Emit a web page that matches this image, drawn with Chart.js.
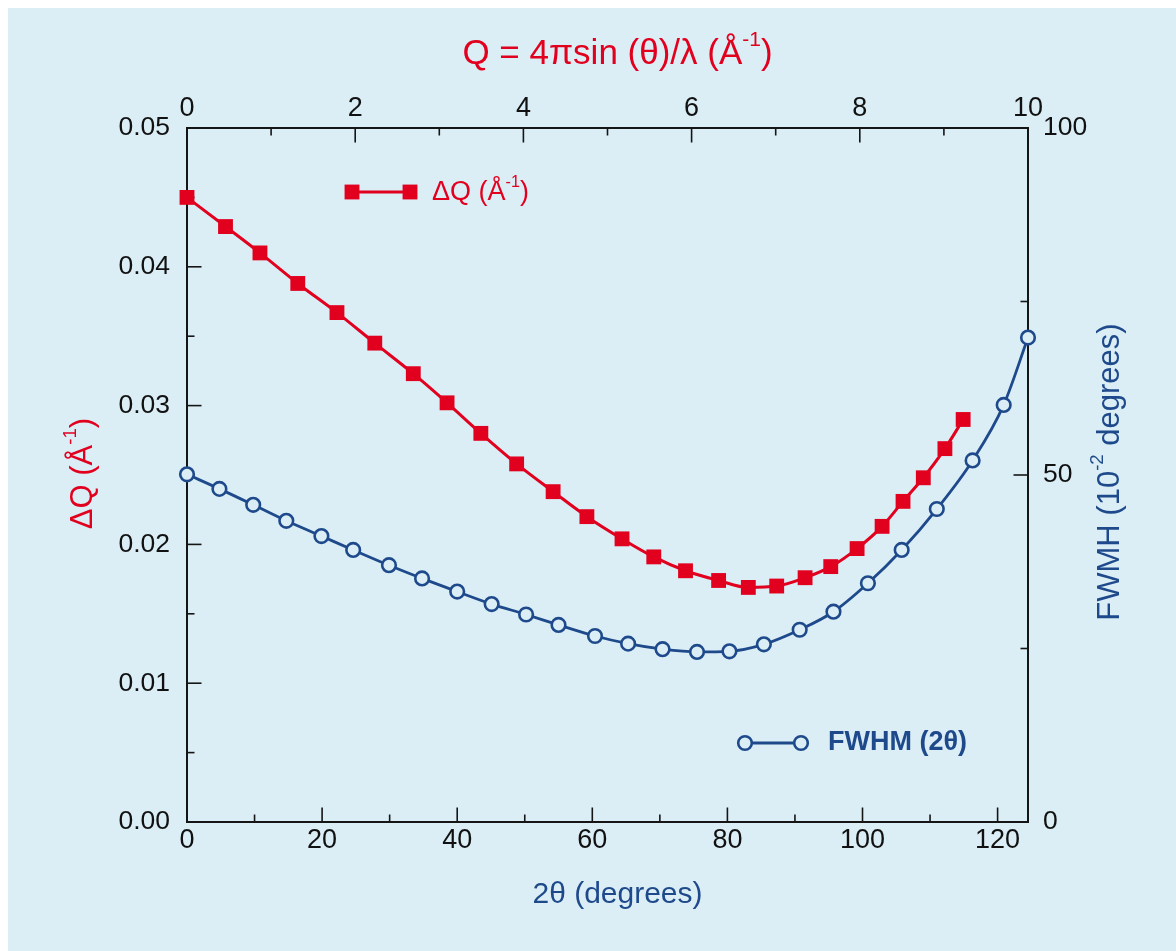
<!DOCTYPE html>
<html><head><meta charset="utf-8">
<script src="https://cdn.jsdelivr.net/npm/chart.js@4.4.1/dist/chart.umd.min.js"></script>
<style>
html,body{margin:0;padding:0;background:#ffffff;}
#wrap{position:absolute;left:8px;top:8px;width:1168px;height:943px;background:#dbeef6;}
</style></head><body><div id="wrap"><canvas id="c"></canvas></div>
<script>
// ---- data ----
const twoThetaDQ = [0, 5.7, 10.8, 16.4, 22.2, 27.8, 33.5, 38.5, 43.5, 48.8, 54.2, 59.2, 64.4, 69.1, 73.8, 78.7, 83.1, 87.3, 91.5, 95.3, 99.2, 102.9, 106.0, 109.0, 112.2, 114.9];
const deltaQ = [0.0450, 0.0429, 0.0410, 0.0388, 0.0367, 0.0345, 0.0323, 0.0302, 0.0280, 0.0258, 0.0238, 0.0220, 0.0204, 0.0191, 0.0181, 0.0174, 0.0169, 0.0170, 0.0176, 0.0184, 0.0197, 0.0213, 0.0231, 0.0248, 0.0269, 0.0290];
const twoThetaFWHM = [0, 4.8, 9.8, 14.7, 19.9, 24.6, 29.9, 34.8, 40.0, 45.1, 50.2, 55.0, 60.4, 65.3, 70.4, 75.5, 80.3, 85.4, 90.7, 95.7, 100.8, 105.8, 111.0, 116.3, 120.9, 124.5];
const fwhm = [50.1, 48.0, 45.7, 43.4, 41.2, 39.2, 37.0, 35.1, 33.2, 31.4, 29.9, 28.4, 26.8, 25.7, 24.9, 24.5, 24.6, 25.6, 27.7, 30.3, 34.4, 39.2, 45.1, 52.1, 60.1, 69.8];

const xTicks = [0, 20, 40, 60, 80, 100, 120];
const xMinor = [10, 30, 50, 70, 90, 110];
const qTicks = [0, 2, 4, 6, 8, 10];
const qMinor = [1, 3, 5, 7, 9];
const dqTicks = [0, 0.01, 0.02, 0.03, 0.04, 0.05];
const dqMinor = [0.005, 0.015, 0.025, 0.035, 0.045];
const fwhmTicks = [0, 50, 100];
const fwhmMinor = [25, 75];

const titleTop = [{t:'Q = 4\u03C0sin (\u03B8)/\u03BB (\u00C5'}, {t:'-1', sup:true}, {t:')'}];
const titleBottom = [{t:'2\u03B8 (degrees)'}];
const titleLeft = [{t:'\u0394Q (\u00C5'}, {t:'-1', sup:true}, {t:')'}];
const titleRight = [{t:'FWMH (10'}, {t:'-2', sup:true}, {t:' degrees)'}];
const legendRed = [{t:'\u0394Q (\u00C5'}, {t:'-1', sup:true}, {t:')'}];
const legendBlue = [{t:'FWHM (2\u03B8)'}];

// ---- style ----
const RED = '#e2001f';
const BLUE = '#1e4a8c';
const BG = '#dbeef6';
const AX = '#151515';
const FONT = "'Liberation Sans', Arial, Helvetica, sans-serif";

function measureRich(ctx, parts, size, weight){
  let w = 0;
  parts.forEach(p=>{
    ctx.font = (weight||'normal') + ' ' + (p.sup ? size*0.6 : size) + 'px ' + FONT;
    w += ctx.measureText(p.t).width;
  });
  return w;
}
function drawRich(ctx, parts, x, y, align, size, weight, color){
  const w = measureRich(ctx, parts, size, weight);
  let cx = align === 'center' ? x - w/2 : (align === 'right' ? x - w : x);
  ctx.fillStyle = color;
  ctx.textBaseline = 'middle';
  ctx.textAlign = 'left';
  parts.forEach(p=>{
    const s = p.sup ? size*0.6 : size;
    ctx.font = (weight||'normal') + ' ' + s + 'px ' + FONT;
    ctx.fillText(p.t, cx, p.sup ? y - size*0.38 : y);
    cx += ctx.measureText(p.t).width;
  });
}

const decorations = {
  id: 'decorations',
  beforeDatasetsDraw(chart){
    const ctx = chart.ctx, a = chart.chartArea, s = chart.scales;
    const MAJ = 14.5, MIN = 7.5;
    ctx.save();
    ctx.strokeStyle = AX; ctx.lineWidth = 1.6;
    const line = (x1,y1,x2,y2)=>{ctx.beginPath();ctx.moveTo(x1,y1);ctx.lineTo(x2,y2);ctx.stroke();};
    xTicks.forEach(v=>{const p=s.x.getPixelForValue(v); line(p,a.bottom,p,a.bottom-MAJ);});
    xMinor.forEach(v=>{const p=s.x.getPixelForValue(v); line(p,a.bottom,p,a.bottom-MIN);});
    qTicks.forEach(v=>{const p=s.x2.getPixelForValue(v); line(p,a.top,p,a.top+MAJ);});
    qMinor.forEach(v=>{const p=s.x2.getPixelForValue(v); line(p,a.top,p,a.top+MIN);});
    dqTicks.forEach(v=>{const p=s.yL.getPixelForValue(v); line(a.left,p,a.left+MAJ,p);});
    dqMinor.forEach(v=>{const p=s.yL.getPixelForValue(v); line(a.left,p,a.left+MIN,p);});
    fwhmTicks.forEach(v=>{const p=s.yR.getPixelForValue(v); line(a.right,p,a.right-MAJ,p);});
    fwhmMinor.forEach(v=>{const p=s.yR.getPixelForValue(v); line(a.right,p,a.right-MIN,p);});
    ctx.restore();
  },
  afterDraw(chart){
    const ctx = chart.ctx, a = chart.chartArea;
    const cxPlot = (a.left + a.right)/2;
    ctx.save();
    // axis titles
    drawRich(ctx, titleTop, cxPlot + 10, a.top - 74, 'center', 35, 'normal', RED);
    drawRich(ctx, titleBottom, cxPlot + 10, a.bottom + 73, 'center', 30, 'normal', BLUE);
    ctx.save();
    ctx.translate(a.left - 104, (a.top + a.bottom)/2 - 1.5);
    ctx.rotate(-Math.PI/2);
    drawRich(ctx, titleLeft, 0, 0, 'center', 31, 'normal', RED);
    ctx.restore();
    ctx.save();
    ctx.translate(a.right + 82, (a.top + a.bottom)/2 - 3);
    ctx.rotate(-Math.PI/2);
    drawRich(ctx, titleRight, 0, 0, 'center', 31, 'normal', BLUE);
    ctx.restore();
    // legends
    const H = Chart.helpers;
    const ly1 = a.top + 64;
    ctx.strokeStyle = RED; ctx.lineWidth = 3;
    ctx.beginPath(); ctx.moveTo(a.left+165, ly1); ctx.lineTo(a.left+223, ly1); ctx.stroke();
    ctx.fillStyle = RED;
    H.drawPoint(ctx, {pointStyle:'rect', radius:10.5, borderWidth:0, rotation:0}, a.left+165, ly1);
    H.drawPoint(ctx, {pointStyle:'rect', radius:10.5, borderWidth:0, rotation:0}, a.left+223, ly1);
    drawRich(ctx, legendRed, a.left+245, ly1+1, 'left', 27, 'normal', RED);

    const ly2 = a.top + 615;
    ctx.strokeStyle = BLUE; ctx.lineWidth = 2.8;
    ctx.beginPath(); ctx.moveTo(a.left+558, ly2); ctx.lineTo(a.left+614, ly2); ctx.stroke();
    ctx.fillStyle = BG; ctx.strokeStyle = BLUE; ctx.lineWidth = 2.6;
    H.drawPoint(ctx, {pointStyle:'circle', radius:6.8, borderWidth:2.6, rotation:0}, a.left+558, ly2);
    H.drawPoint(ctx, {pointStyle:'circle', radius:6.8, borderWidth:2.6, rotation:0}, a.left+614, ly2);
    drawRich(ctx, legendBlue, a.left+641, ly2, 'left', 27, 'bold', BLUE);
    ctx.restore();
  }
};

const tickFontX = {family: FONT, size: 27};
const tickFontY = {family: FONT, size: 26.5};
function axisBase(extra){
  return Object.assign({
    type:'linear',
    grid:{display:false, drawTicks:false},
    border:{display:true, color:AX, width:2},
  }, extra);
}

new Chart(document.getElementById('c'), {
  type:'line',
  data:{datasets:[
    {label:'\u0394Q', data: twoThetaDQ.map((x,i)=>({x:x, y:deltaQ[i]})), xAxisID:'x', yAxisID:'yL',
     borderColor:RED, backgroundColor:RED, borderWidth:3, pointStyle:'rect', pointRadius:10.5,
     pointBorderWidth:0, pointBackgroundColor:RED, pointBorderColor:RED,
     cubicInterpolationMode:'monotone', clip:false, fill:false},
    {label:'FWHM', data: twoThetaFWHM.map((x,i)=>({x:x, y:fwhm[i]})), xAxisID:'x', yAxisID:'yR',
     borderColor:BLUE, backgroundColor:BG, borderWidth:2.8, pointStyle:'circle', pointRadius:6.8,
     pointBorderWidth:2.6, pointBackgroundColor:BG, pointBorderColor:BLUE,
     cubicInterpolationMode:'monotone', clip:false, fill:false}
  ]},
  options:{
    responsive:true, maintainAspectRatio:false, animation:false, events:[],
    layout:{padding:0},
    plugins:{legend:{display:false}, tooltip:{enabled:false}, title:{display:false}},
    scales:{
      x: axisBase({position:'bottom', min:0, max:124.5,
        afterBuildTicks:s=>{s.ticks = xTicks.map(v=>({value:v}));},
        afterFit:s=>{s.height = 129;},
        ticks:{font:tickFontX, color:'#111', padding:2, maxRotation:0, autoSkip:false}}),
      x2: axisBase({position:'top', min:0, max:10,
        afterBuildTicks:s=>{s.ticks = qTicks.map(v=>({value:v}));},
        afterFit:s=>{s.height = 120;},
        ticks:{font:tickFontX, color:'#111', padding:3, maxRotation:0, autoSkip:false}}),
      yL: axisBase({position:'left', min:0, max:0.05,
        afterBuildTicks:s=>{s.ticks = dqTicks.map(v=>({value:v}));},
        afterFit:s=>{s.width = 179;},
        ticks:{font:tickFontY, color:'#111', padding:17, autoSkip:false, callback:v=>v.toFixed(2)}}),
      yR: axisBase({position:'right', min:0, max:100,
        afterBuildTicks:s=>{s.ticks = fwhmTicks.map(v=>({value:v}));},
        afterFit:s=>{s.width = 148;},
        ticks:{font:tickFontY, color:'#111', padding:15, autoSkip:false, callback:v=>String(v)}})
    }
  },
  plugins:[decorations]
});
</script>
</body></html>
